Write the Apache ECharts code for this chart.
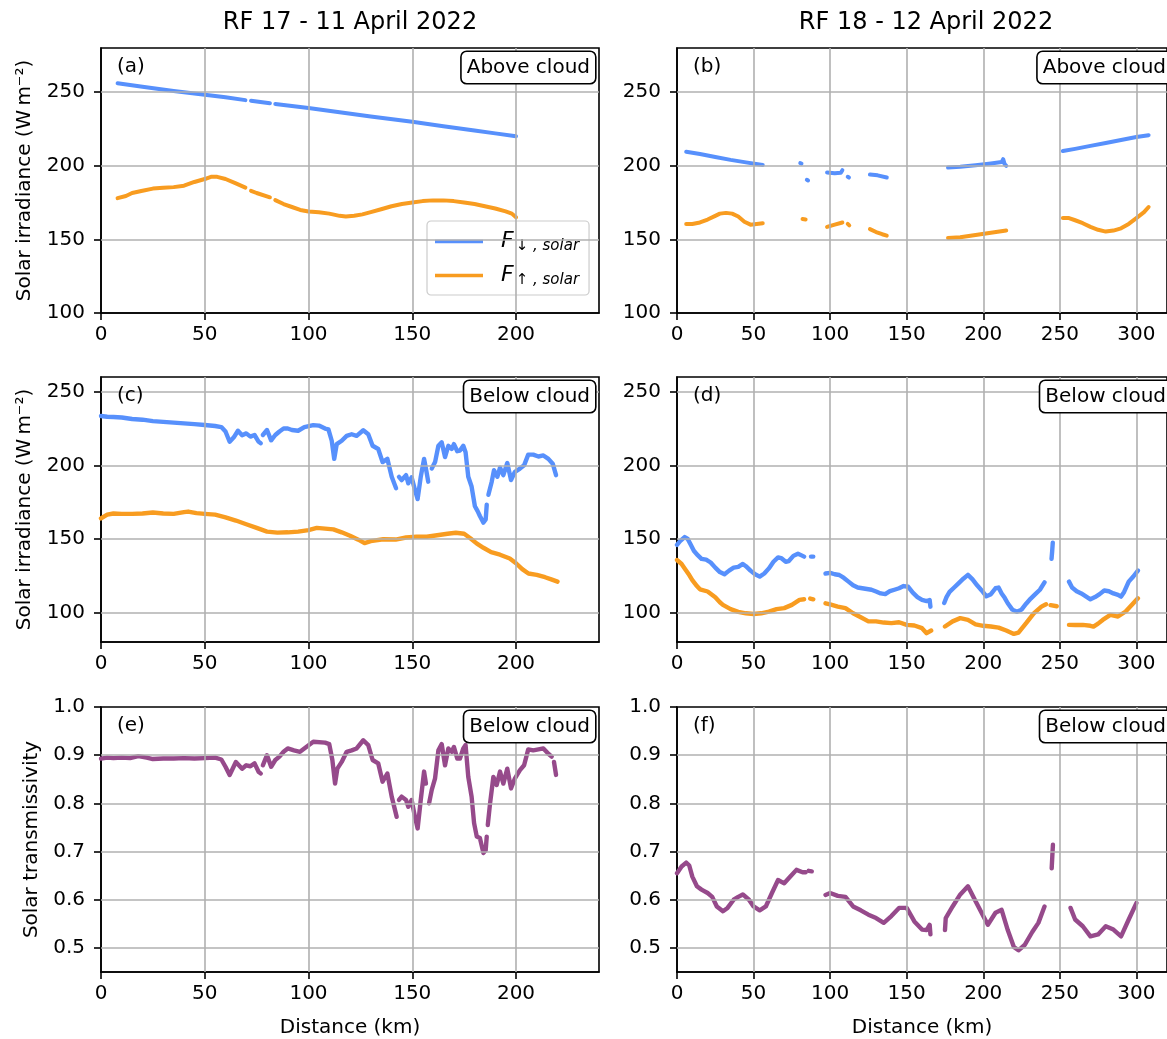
<!DOCTYPE html>
<html>
<head>
<meta charset="utf-8">
<script src="https://cdn.jsdelivr.net/npm/echarts@6/dist/echarts.min.js"></script>
<style>
  html, body { margin: 0; padding: 0; background: #fff; }
  #chart { width: 1167px; height: 1039px; }
</style>
</head>
<body>
<div id="chart"></div>
<script>
// ---- Flight data: [distance (km), value]; null marks a gap in the record ----

// RF 17, above cloud (W m-2)
const rf17AboveDown = [[8,256],[20,253.7],[35,250.8],[50,248.3],[60,246.5],[69.6,244.6],[70.9,null],[72.3,244.1],[81.4,242.4],[82.7,null],[84,241.9],[100,239.2],[115,236.3],[130,233.4],[150,229.9],[165,226.9],[180,224],[190,222],[200,220]];
const rf17AboveUp = [[8,178],[12,179.5],[15,181.5],[20,183],[25,184.5],[30,185],[35,185.5],[40,186.5],[45,189],[50,191],[53,192.5],[56,192.5],[60,191],[65,188],[69.6,185.2],[70.9,null],[72.3,183],[75,181.5],[81.4,178.6],[82.7,null],[84,176.7],[88,174],[92,172],[96,170],[100,169],[105,168.5],[110,167.5],[115,166],[118,165.5],[122,166],[126,167],[130,168.5],[135,170.5],[140,172.5],[145,174],[150,175],[155,176],[160,176.5],[165,176.5],[170,176],[175,175],[180,174],[185,172.5],[190,171],[195,169],[198,167.5],[200,165]];

// RF 18, above cloud (W m-2)
const rf18AboveDown = [[6,209.5],[15,208],[25,206],[35,204],[45,202.3],[56,200.5],[60,null],[80.5,201.8],[81.3,201.5],[83,null],[84.8,190.5],[85.6,190],[90,null],[98,195.5],[103,195],[107,195.3],[108,197],[110,null],[111.5,192.5],[112.3,192],[120,null],[126,194],[131,193.5],[137,192],[150,null],[177,198.8],[185,199.3],[195,200.3],[205,201.5],[212,202.5],[213,204.5],[214,201],[215,200],[230,null],[252,210],[260,211.5],[270,213.5],[280,215.5],[290,217.5],[300,219.5],[308,220.8]];
const rf18AboveUp = [[6,160.5],[10,160.5],[15,161.5],[20,163.5],[25,166],[28,167.5],[32,168],[36,167.5],[40,165.5],[44,162],[48,160],[52,160.5],[56,161],[60,null],[82,163.8],[84,163.5],[90,null],[98,158.5],[103,160],[108,161.5],[110,null],[111.5,160.5],[112.5,159.5],[120,null],[126,157],[130,155],[134,153.5],[137,152.5],[150,null],[177,151],[185,151.5],[195,153],[205,154.5],[215,156],[230,null],[252,164.5],[256,164.5],[260,163],[265,161],[270,158.5],[275,156.5],[280,155.3],[285,156],[290,157.5],[295,160.5],[300,164.5],[305,168.5],[308,172]];

// RF 17, below cloud (W m-2)
const rf17BelowDown = [[0,233.5],[3,233],[6,232.8],[10,232.5],[15,231.5],[20,231],[25,230],[30,229.5],[35,229],[40,228.5],[45,228],[50,227.4],[55,226.7],[58,226],[60,223],[62,216],[64,219],[66,223.5],[68,220.5],[70,221.7],[72,219.5],[74,220.6],[76,216],[77,215],[77.5,null],[78,220.6],[80,224],[82,217],[84,220.6],[86,223],[88,225],[90,225],[92,224],[95,223.5],[98,226],[102.3,227.3],[105,227],[108,225],[109.6,224.4],[111.2,216.7],[112.4,204.4],[113.6,214.4],[116,216.7],[118.4,220],[120.8,221.1],[123.2,220],[126.4,223.8],[128.8,221.1],[130.9,213.3],[133.6,211.1],[135.7,202.2],[138,204.4],[140.1,192.2],[142.2,184.4],[143,null],[143.6,192.2],[144.9,190],[147,193.3],[148.1,187.8],[149.7,191.8],[151.3,183.3],[152.6,177.1],[154.1,192.2],[155.7,204.4],[156.6,197.8],[157.7,188.9],[158.5,null],[159.4,197.8],[161,202.2],[162.6,213.3],[164.2,215.6],[165.8,205.6],[167.4,213.3],[169,211.1],[170.1,214.4],[171.7,209.6],[173,210],[174.6,213.3],[175.7,208.9],[177,192.2],[178.6,185.6],[180.2,172.2],[181.5,168.9],[182.6,165.6],[184.3,161.1],[185.4,163.3],[185.9,173.3],[186.3,null],[186.7,180],[188.3,188.9],[189.4,196.7],[191,192.2],[192.3,198.4],[193.9,193.3],[195.8,201.6],[197.6,190],[199.5,195.6],[201.9,197.8],[203.9,200],[205.9,207.3],[208.3,207.3],[210.8,206],[213.2,206.7],[215.6,204.4],[217.7,201.1],[219.3,193.3]];
const rf17BelowUp = [[0,164],[3,166.5],[6,167.3],[10,167],[15,167],[20,167.3],[25,168],[30,167.3],[35,167],[40,168.2],[42,168.6],[46,167.5],[50,167],[55,166.5],[60,164.7],[65,162.5],[70,160],[75,157.5],[80,155],[85,154.3],[90,154.5],[95,155],[100,156],[104,157.5],[108,157],[112,156.5],[116,154.5],[120,152.2],[124,149.5],[127,147.2],[130,148.5],[136,149.8],[142,149.6],[147,151],[152,151.5],[157,151.5],[162,152.5],[167,153.5],[171,154.2],[175,153.5],[178,150.5],[181,147],[184.3,144],[188,141],[192.3,139.3],[197,136.7],[200,133.5],[203,129.5],[206,126.5],[210,125.6],[214,124],[217,122.5],[220,121]];

// RF 18, below cloud (W m-2)
const rf18BelowDown = [[0,146],[2,148.5],[5,151.3],[7,150],[9,146],[11,142],[13,139.5],[16,136.5],[19,136],[22,134],[25,130.5],[28,127.5],[31,126],[34,128.5],[37,130.5],[40,131],[43,133],[45,131.5],[48,128.5],[51,126],[54,124.4],[57,126.5],[60,130],[63,134.5],[66,137.5],[68,137],[71,134.5],[73,135],[76,138.5],[79,140],[81,139],[83,138],[85,null],[87.5,138],[89,138],[92,null],[97,126.5],[100,127],[103,126],[106,125.5],[109,123.5],[112,121],[115,118.5],[118,117],[121,116.5],[124,116],[127,115.5],[130,114.3],[133,113],[136,112.5],[139,114.5],[142,115.5],[145,116.5],[148,118],[151,117.5],[154,113.5],[157,110.5],[160,108.6],[163,107.8],[165,108.5],[165.5,104],[170,null],[174.5,106.5],[176,110.5],[178,114],[181,117],[184,120],[187,123],[190,125.6],[193,122.5],[196,118.5],[199,115],[202,111],[205,112.5],[208,116.5],[210,117],[212,113],[214,110],[216,106.3],[219,102],[222,100.5],[225,102],[228,106],[231,109.5],[234,112.5],[237,115.5],[240,120.5],[242,null],[244.6,136.5],[245,141.5],[245.4,147.5],[250,null],[256,121],[258,117],[261,114.5],[264,113],[267,111],[270,109],[273,110.5],[276,112.5],[279,115],[282,114.5],[285,113],[288,112],[290,110.8],[292,114],[295,121],[298,124.5],[301,128.5]];
const rf18BelowUp = [[0,135.7],[3,133],[5,130],[8,125.5],[10,122],[13,118],[15,115.8],[20,114.3],[25,110.4],[28,107],[30,105.2],[35,102.3],[40,100.5],[45,99.5],[50,99],[55,99.5],[60,100.7],[65,102.3],[70,103],[75,105.2],[80,108.6],[83,109],[85,null],[87,109.5],[89,109],[92,null],[97,106.3],[100,105.5],[105,104],[110,103],[115,99.5],[120,96.8],[125,94],[130,94],[135,93.2],[140,92.8],[145,93.4],[150,91.6],[155,91.2],[160,89.4],[163,86],[166,87.8],[170,null],[175,90.5],[180,94],[185,96.2],[190,95],[195,92],[200,91],[205,90.5],[210,89.8],[215,87.8],[220,85.5],[223,86.4],[228,92.8],[233,99.5],[238,104],[241,105.6],[242.5,null],[244,105],[248,104.3],[252,null],[256,91.6],[260,91.5],[265,91.6],[270,91],[272,90.5],[275,92.5],[278,95],[283,98.4],[288,97.3],[293,100.7],[298,106.3],[301,109.7]];

// Solar transmissivity below cloud
const rf17Trans = [[0,0.893],[3,0.895],[6,0.894],[10,0.895],[14,0.894],[18,0.898],[22,0.895],[25,0.892],[30,0.893],[35,0.893],[40,0.894],[45,0.893],[50,0.894],[55,0.895],[58,0.891],[60,0.876],[62,0.859],[65,0.886],[68,0.872],[70,0.879],[72,0.877],[74,0.883],[76,0.865],[77,0.862],[77.6,null],[78,0.879],[80,0.9],[82,0.876],[84,0.89],[86,0.897],[88,0.907],[90,0.914],[93,0.91],[95.9,0.907],[102.3,0.928],[108,0.926],[110,0.923],[111.5,0.89],[112.8,0.841],[113.9,0.872],[116,0.886],[118.4,0.907],[120.8,0.91],[123.2,0.914],[126.4,0.931],[128.8,0.921],[130.9,0.89],[133.6,0.883],[135.7,0.845],[138,0.862],[140.1,0.814],[142.5,0.772],[143.1,null],[143.6,0.807],[144.9,0.814],[147,0.807],[148.1,0.793],[149.7,0.807],[151.3,0.772],[152.6,0.748],[154.1,0.807],[155.7,0.866],[156.6,0.841],[157.3,null],[158.1,0.8],[159.4,0.828],[161,0.852],[162.6,0.91],[164.2,0.923],[165.8,0.879],[167.4,0.914],[169,0.907],[170.1,0.917],[171.7,0.893],[173,0.893],[174.6,0.914],[175.7,0.921],[177,0.855],[178.6,0.814],[179.8,0.759],[181.1,0.731],[182.6,0.728],[184.3,0.697],[185.4,0.703],[185.9,0.731],[186.1,null],[186.4,0.755],[187.5,0.8],[189.1,0.855],[190.7,0.838],[192.3,0.866],[193.9,0.841],[195.8,0.872],[197.6,0.831],[199.5,0.852],[201.9,0.869],[203.9,0.879],[205.9,0.912],[208.3,0.91],[210.8,0.912],[213.2,0.914],[215.6,0.903],[217.2,0.897],[217.7,null],[218.3,0.886],[219.3,0.859]];
const rf18Trans = [[0,0.655],[3,0.669],[6,0.677],[8,0.671],[10,0.648],[13,0.628],[16,0.621],[20,0.614],[23,0.606],[26,0.586],[30,0.576],[33,0.583],[37,0.6],[40,0.606],[43,0.611],[47,0.6],[50,0.586],[54,0.578],[58,0.586],[62,0.614],[66,0.641],[70,0.634],[74,0.648],[78,0.662],[82,0.657],[84,0.657],[85,null],[86,0.66],[88,0.659],[92,null],[97,0.61],[100,0.614],[105,0.608],[110,0.606],[115,0.586],[120,0.578],[125,0.569],[130,0.562],[135,0.552],[140,0.566],[145,0.583],[150,0.583],[155,0.555],[160,0.538],[163,0.537],[165,0.548],[165.5,0.528],[170,null],[175,0.537],[175.5,0.562],[180,0.586],[185,0.611],[190,0.628],[195,0.597],[200,0.566],[203,0.548],[208,0.573],[212,0.579],[216,0.537],[220,0.502],[223,0.495],[227,0.506],[232,0.533],[236,0.552],[240,0.586],[242,null],[244.7,0.665],[245.1,0.69],[245.5,0.714],[250,null],[257,0.583],[260,0.559],[265,0.545],[270,0.524],[275,0.528],[280,0.545],[285,0.538],[290,0.524],[295,0.559],[300,0.593]];

// ---- Axis scales and tick labels ----
const columnTitles = ['RF 17 - 11 April 2022', 'RF 18 - 12 April 2022'];
const panelLetters = ['(a)', '(b)', '(c)', '(d)', '(e)', '(f)'];
const panelTags = ['Above cloud', 'Above cloud', 'Below cloud', 'Below cloud', 'Below cloud', 'Below cloud'];
const xMax = [240, 320];
const xTicks = [[0, 50, 100, 150, 200], [0, 50, 100, 150, 200, 250, 300]];
const yRange = [[100, 280], [80, 260], [0.45, 1.0]];
const yTicks = [[100, 150, 200, 250], [100, 150, 200, 250], [0.5, 0.6, 0.7, 0.8, 0.9, 1.0]];
const yNames = ['Solar irradiance (W\u2009m\u207b\u00b2)', 'Solar irradiance (W\u2009m\u207b\u00b2)', 'Solar transmissivity'];

// ---- Layout ----
const FONT = 'DejaVu Sans';
const BLUE = '#5790fc', ORANGE = '#f89c20', PURPLE = '#964a8b';
const GRID_GREY = '#b0b0b0';
const colLeft = [101, 677];
const colWidth = 498;
const rowTop = [48, 377, 707];
const rowHeight = 265;
const rowLineWidth = [4, 4.4, 4.4];

const panelSeries = [
  [['down', BLUE, rf17AboveDown], ['up', ORANGE, rf17AboveUp]],
  [['down', BLUE, rf18AboveDown], ['up', ORANGE, rf18AboveUp]],
  [['down', BLUE, rf17BelowDown], ['up', ORANGE, rf17BelowUp]],
  [['down', BLUE, rf18BelowDown], ['up', ORANGE, rf18BelowUp]],
  [['trans', PURPLE, rf17Trans]],
  [['trans', PURPLE, rf18Trans]]
];

const grids = [], xAxes = [], yAxes = [], series = [], graphics = [];
const tickLabelStyle = { color: '#000', fontSize: 20, fontFamily: FONT };

for (let r = 0; r < 3; r++) {
  for (let c = 0; c < 2; c++) {
    const i = r * 2 + c;
    grids.push({
      left: colLeft[c], top: rowTop[r], width: colWidth, height: rowHeight,
      show: true, borderColor: '#000', borderWidth: 1.6, backgroundColor: 'rgba(0,0,0,0)'
    });
    xAxes.push({
      type: 'value', gridIndex: i, min: 0, max: xMax[c],
      axisLine: { show: true, onZero: false, lineStyle: { color: '#000', width: 1.6 } },
      axisTick: { show: true, length: 7, customValues: xTicks[c], lineStyle: { color: '#000', width: 1.6 } },
      axisLabel: Object.assign({ customValues: xTicks[c], margin: 12 }, tickLabelStyle),
      splitLine: { show: false },
      name: r === 2 ? 'Distance (km)' : '',
      nameLocation: 'middle', nameGap: 46,
      nameTextStyle: { color: '#000', fontSize: 20, fontFamily: FONT }
    });
    yAxes.push({
      type: 'value', gridIndex: i, min: yRange[r][0], max: yRange[r][1],
      axisLine: { show: true, onZero: false, lineStyle: { color: '#000', width: 1.6 } },
      axisTick: { show: true, length: 7, customValues: yTicks[r], lineStyle: { color: '#000', width: 1.6 } },
      axisLabel: Object.assign({
        customValues: yTicks[r], margin: 16,
        formatter: r === 2 ? (v => Number(v).toFixed(1)) : (v => String(v))
      }, tickLabelStyle),
      splitLine: { show: false },
      name: c === 0 ? yNames[r] : '',
      nameLocation: 'middle', nameRotate: 90, nameGap: r === 2 ? 59 : 66,
      nameTextStyle: { color: '#000', fontSize: 20, fontFamily: FONT }
    });

    // grid lines at the tick positions
    const lo = yRange[r][0], hi = yRange[r][1];
    series.push({
      type: 'line', xAxisIndex: i, yAxisIndex: i, data: [], silent: true, z: 1,
      markLine: {
        silent: true, animation: false, symbol: ['none', 'none'],
        label: { show: false }, emphasis: { disabled: true },
        lineStyle: { color: GRID_GREY, width: 1.6, type: 'solid' },
        data: xTicks[c].filter(v => v > 0).map(v => ({ xAxis: v }))
          .concat(yTicks[r].filter(v => v > lo && v < hi).map(v => ({ yAxis: v })))
      }
    });

    // measured curves
    panelSeries[i].forEach(([name, color, pts]) => {
      series.push({
        type: 'line', name, xAxisIndex: i, yAxisIndex: i, z: 3,
        data: pts.map(p => [p[0], p[1] === null ? '-' : p[1]]),
        showSymbol: false, connectNulls: false, silent: true,
        lineStyle: { color, width: rowLineWidth[r], join: 'round', cap: 'round' }, itemStyle: { color },
        emphasis: { disabled: true }
      });
    });

    // panel letter
    graphics.push({
      type: 'text', x: colLeft[c] + 16, y: rowTop[r] + 19, z: 10,
      style: { text: panelLetters[i], font: '20px "' + FONT + '"', fill: '#000',
               align: 'left', verticalAlign: 'middle', textAlign: 'left', textVerticalAlign: 'middle' }
    });
    // boxed tag in the top-right corner
    graphics.push({
      type: 'text', x: colLeft[c] + colWidth - 4, y: rowTop[r] + 4, z: 10,
      style: { text: panelTags[i], font: '20px "' + FONT + '"', fill: '#000',
               align: 'right', verticalAlign: 'top', textAlign: 'right', textVerticalAlign: 'top',
               backgroundColor: '#fff', borderColor: '#000', borderWidth: 1.6, borderRadius: 5,
               padding: [4, 5, 4, 5], lineHeight: 23 }
    });
  }
}

// column titles
columnTitles.forEach((t, c) => {
  graphics.push({
    type: 'text', x: colLeft[c] + colWidth / 2, y: 23, z: 10,
    style: { text: t, font: '24px "' + FONT + '"', fill: '#000',
             align: 'center', verticalAlign: 'middle', textAlign: 'center', textVerticalAlign: 'middle' }
  });
});

const chart = echarts.init(document.getElementById('chart'), null, { renderer: 'canvas' });
chart.setOption({
  animation: false,
  backgroundColor: '#fff',
  grid: grids,
  xAxis: xAxes,
  yAxis: yAxes,
  legend: {
    show: true, selectedMode: false,
    data: [{ name: 'down', icon: 'rect' }, { name: 'up', icon: 'rect' }],
    orient: 'vertical', left: 427, top: 221,
    padding: [8, 10, 7, 8], itemGap: 9, itemWidth: 48, itemHeight: 3.5,
    backgroundColor: 'rgba(255,255,255,0.8)', borderColor: '#cccccc', borderWidth: 1.2, borderRadius: 4,
    formatter: n => n === 'down' ? '{f|F}{s|\u2193 , solar}' : '{f|F}{s|\u2191 , solar}',
    textStyle: {
      color: '#000', fontFamily: FONT,
      rich: {
        f: { fontSize: 22, fontStyle: 'italic', fontFamily: FONT, color: '#000', padding: [0, 0, 0, 13], lineHeight: 28 },
        s: { fontSize: 15, fontStyle: 'italic', fontFamily: FONT, color: '#000', padding: [10, 0, 0, 2], lineHeight: 28 }
      }
    }
  },
  graphic: graphics,
  series: series
});
</script>
</body>
</html>
